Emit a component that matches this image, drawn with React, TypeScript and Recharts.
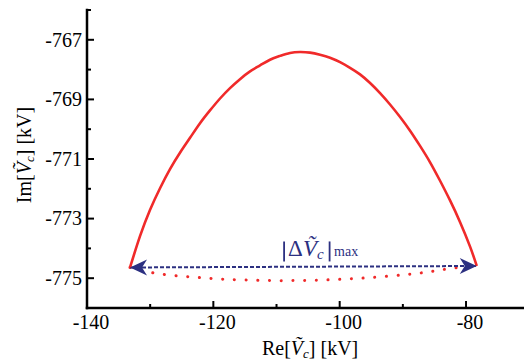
import React from "react";
import {
  LineChart,
  Line,
  XAxis,
  YAxis,
  ReferenceDot,
  Label,
} from "recharts";

// solid red trajectory (Re, Im) in kV
const reSolid = [
  -133.19, -131.61, -130.03, -128.44, -126.86, -125.28, -123.69, -122.11,
  -120.53, -118.94, -117.36, -115.78, -114.19, -112.61, -111.03, -109.44,
  -107.86, -106.28, -104.69, -103.11, -101.53, -99.94, -98.36, -96.78,
  -95.19, -93.61, -92.03, -90.44, -88.86, -87.28, -85.69, -84.11, -82.53,
  -80.94, -79.36, -78.3,
];
const imSolid = [
  -774.64, -773.59, -772.71, -771.98, -771.34, -770.79, -770.29, -769.8,
  -769.37, -768.97, -768.62, -768.32, -768.06, -767.86, -767.67, -767.54,
  -767.44, -767.41, -767.43, -767.5, -767.6, -767.75, -767.94, -768.16,
  -768.45, -768.79, -769.17, -769.59, -770.05, -770.56, -771.11, -771.73,
  -772.39, -773.12, -773.94, -774.59,
];

// dotted red return path
const reDotted = [
  -133.19, -129.76, -125.8, -122.11, -118.67, -114.98, -111.3, -107.59,
  -103.9, -100.21, -96.51, -92.82, -89.13, -85.69, -82.0, -78.3,
];
const imDotted = [
  -774.64, -774.81, -774.92, -774.98, -775.03, -775.06, -775.08, -775.08,
  -775.07, -775.04, -775.0, -774.94, -774.87, -774.78, -774.66, -774.59,
];

// double arrow |dV|max
const reArrow = [-133.19, -78.3];
const imArrow = [-774.64, -774.59];

const xMajor = [-140, -120, -100, -80];
const xMinor = [-130, -110, -90, -70];
const yMajor = [-775, -773, -771, -769, -767];
const yMinor = [-776, -774, -772, -770, -768, -766];

const solidData = reSolid.map((x, i) => ({ x, y: imSolid[i] }));
const dottedData = reDotted.map((x, i) => ({ x, y: imDotted[i] }));
const arrowData = reArrow.map((x, i) => ({ x, y: imArrow[i] }));

const xTicks = [...xMajor, ...xMinor].sort((a, b) => a - b);
const yTicks = [...yMajor, ...yMinor].sort((a, b) => a - b);

const FONT = "'Liberation Serif', 'Times New Roman', serif";
const RED = "#f02a2a";
const NAVY = "#2c3081";
const axisStyle = { stroke: "#000", strokeWidth: 2.5, strokeLinecap: "square" as const };

function LeftTick(props: any) {
  const { x, y, payload } = props;
  const major = yMajor.includes(payload.value);
  return (
    <g>
      <line x1={x} x2={x + (major ? 7 : 4)} y1={y} y2={y} stroke="#000" strokeWidth={2} />
      {major && (
        <text x={x - 5} y={y + 6.8} textAnchor="end" fontSize={20} fontFamily={FONT} fill="#000">
          {payload.value}
        </text>
      )}
    </g>
  );
}

function RightTick(props: any) {
  const { x, y, payload } = props;
  const major = yMajor.includes(payload.value);
  return <line x1={x} x2={x - (major ? 7 : 4)} y1={y} y2={y} stroke="#000" strokeWidth={2} />;
}

function BottomTick(props: any) {
  const { x, y, payload } = props;
  const major = xMajor.includes(payload.value);
  return (
    <g>
      <line x1={x} x2={x} y1={y} y2={y - (major ? 7 : 4)} stroke="#000" strokeWidth={2} />
      {major && (
        <text x={x + 4} y={y + 20.5} textAnchor="middle" fontSize={20} fontFamily={FONT} fill="#000">
          {payload.value}
        </text>
      )}
    </g>
  );
}

function TopTick(props: any) {
  const { x, y, payload } = props;
  const major = xMajor.includes(payload.value);
  return <line x1={x} x2={x} y1={y} y2={y + (major ? 7 : 4)} stroke="#000" strokeWidth={2} />;
}

function ArrowHead(props: any) {
  const { cx, cy, index } = props;
  const d = index === 0 ? 1 : -1;
  return (
    <path
      key={index}
      d={`M${cx},${cy} L${cx + d * 17},${cy - 8} L${cx + d * 12},${cy} L${cx + d * 17},${cy + 8} Z`}
      fill={NAVY}
      stroke="none"
    />
  );
}

function DeltaLabel(props: any) {
  const { cx, cy } = props;
  return (
    <g fontFamily={FONT} fill={NAVY}>
      <line x1={cx} x2={cx} y1={cy - 15} y2={cy + 5} stroke={NAVY} strokeWidth={1.8} />
      <text x={cx + 4} y={cy} fontSize={23}>
        <tspan>Δ</tspan>
        <tspan fontStyle="italic">Ṽ</tspan>
        <tspan fontStyle="italic" fontSize={15} dy={3}>c</tspan>
      </text>
      <line x1={cx + 45.5} x2={cx + 45.5} y1={cy - 15} y2={cy + 5} stroke={NAVY} strokeWidth={1.8} />
      <text x={cx + 50} y={cy} fontSize={14}>max</text>
    </g>
  );
}

function XTitle(props: any) {
  const { viewBox } = props;
  const cx = viewBox.x + viewBox.width / 2 + 2;
  return (
    <text x={cx} y={viewBox.y + 47} textAnchor="middle" fontSize={20} fontFamily={FONT} fill="#000">
      Re[<tspan fontStyle="italic">Ṽ</tspan>
      <tspan fontStyle="italic" fontSize={13} dy={3}>c</tspan>
      <tspan dy={-3}>] [kV]</tspan>
    </text>
  );
}

function YTitle(props: any) {
  const { viewBox } = props;
  const x = viewBox.x + 31;
  const y = viewBox.y + viewBox.height / 2 - 4;
  return (
    <text
      x={x}
      y={y}
      transform={`rotate(-90, ${x}, ${y})`}
      textAnchor="middle"
      fontSize={20}
      fontFamily={FONT}
      fill="#000"
    >
      Im[<tspan fontStyle="italic">Ṽ</tspan>
      <tspan fontStyle="italic" fontSize={13} dy={3}>c</tspan>
      <tspan dy={-3}>] [kV]</tspan>
    </text>
  );
}

export default function App() {
  return (
    <div
      style={{
        position: "absolute",
        left: 0,
        top: 0,
        width: 524,
        height: 362,
        overflow: "hidden",
        background: "#fff",
      }}
    >
      <LineChart
        width={540}
        height={362}
        margin={{ top: 10, right: 10.8, bottom: 0, left: 0 }}
      >
        <XAxis
          xAxisId="b"
          dataKey="x"
          type="number"
          domain={[-140, -70]}
          ticks={xTicks}
          interval={0}
          allowDataOverflow
          height={54}
          axisLine={axisStyle}
          tickLine={false}
          tickSize={0}
          tickMargin={0}
          tick={(p: any) => <BottomTick {...p} />}
        >
          <Label content={(p: any) => <XTitle {...p} />} />
        </XAxis>
        <XAxis
          xAxisId="t"
          orientation="top"
          dataKey="x"
          type="number"
          domain={[-140, -70]}
          ticks={xTicks}
          interval={0}
          allowDataOverflow
          height={0}
          axisLine={axisStyle}
          tickLine={false}
          tickSize={0}
          tickMargin={0}
          tick={(p: any) => <TopTick {...p} />}
        />
        <YAxis
          yAxisId="l"
          type="number"
          domain={[-776, -766]}
          ticks={yTicks}
          interval={0}
          allowDataOverflow
          width={87}
          axisLine={axisStyle}
          tickLine={false}
          tickSize={0}
          tickMargin={0}
          tick={(p: any) => <LeftTick {...p} />}
        >
          <Label content={(p: any) => <YTitle {...p} />} />
        </YAxis>
        <YAxis
          yAxisId="r"
          orientation="right"
          type="number"
          domain={[-776, -766]}
          ticks={yTicks}
          interval={0}
          allowDataOverflow
          width={0}
          axisLine={axisStyle}
          tickLine={false}
          tickSize={0}
          tickMargin={0}
          tick={(p: any) => <RightTick {...p} />}
        />
        <Line
          xAxisId="b"
          yAxisId="l"
          data={dottedData}
          dataKey="y"
          type="natural"
          stroke={RED}
          strokeWidth={3}
          strokeDasharray="0.1 11.6"
          strokeLinecap="round"
          dot={false}
          isAnimationActive={false}
        />
        <Line
          xAxisId="b"
          yAxisId="l"
          data={arrowData}
          dataKey="y"
          type="linear"
          stroke={NAVY}
          strokeWidth={2}
          strokeDasharray="4 2"
          dot={(p: any) => <ArrowHead {...p} />}
          isAnimationActive={false}
        />
        <Line
          xAxisId="b"
          yAxisId="l"
          data={solidData}
          dataKey="y"
          type="natural"
          stroke={RED}
          strokeWidth={2.6}
          dot={false}
          isAnimationActive={false}
        />
        <ReferenceDot
          xAxisId="b"
          yAxisId="l"
          x={-108.8}
          y={-774.27}
          r={0}
          shape={(p: any) => <DeltaLabel {...p} />}
        />
      </LineChart>
    </div>
  );
}
